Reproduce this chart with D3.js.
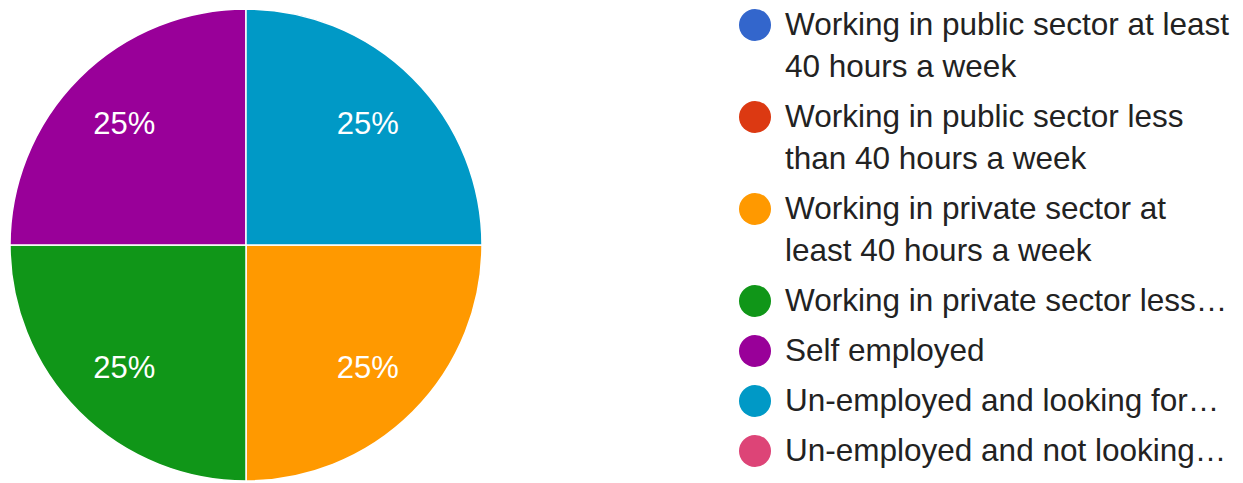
<!DOCTYPE html>
<html>
<head>
<meta charset="utf-8">
<script src="https://cdn.jsdelivr.net/npm/d3@7"></script>
<style>
  body { margin: 0; background: #fff; }
  svg { display: block; }
</style>
</head>
<body>
<div id="chart"></div>
<script>
const categories = [
  'Working in public sector at least 40 hours a week',
  'Working in public sector less than 40 hours a week',
  'Working in private sector at least 40 hours a week',
  'Working in private sector less than 40 hours a week',
  'Self employed',
  'Un-employed and looking for work',
  'Un-employed and not looking for work',
];
// legend text as shown (wrapped / truncated)
const legendLines = [
  ['Working in public sector at least', '40 hours a week'],
  ['Working in public sector less', 'than 40 hours a week'],
  ['Working in private sector at', 'least 40 hours a week'],
  ['Working in private sector less…'],
  ['Self employed'],
  ['Un-employed and looking for…'],
  ['Un-employed and not looking…'],
];
const values = [0, 0, 1, 1, 1, 1, 0];
const colors = ['#3366cc', '#dc3912', '#ff9900', '#109618', '#990099', '#0099c6', '#dd4477'];

const width = 1243;
const height = 483;
const font = '"Liberation Sans", Arial, sans-serif';

const svg = d3.select('#chart')
  .append('svg')
  .attr('width', width)
  .attr('height', height);

const data = categories.map((c, i) => ({ name: c, value: values[i], color: colors[i] }));
const total = d3.sum(values);

// Pie
const cx = 246;
const cy = 245;
const r = 236;

const pie = d3.pie()
  .sort(null)
  .value((d) => d.value)
  .startAngle(Math.PI / 2)
  .endAngle(Math.PI / 2 + 2 * Math.PI);

const arc = d3.arc().innerRadius(0).outerRadius(r);
const labelArc = d3.arc().innerRadius(r * 0.73).outerRadius(r * 0.73);

const g = svg.append('g').attr('transform', `translate(${cx},${cy})`);
const slices = pie(data).filter((d) => d.data.value > 0);

g.selectAll('path')
  .data(slices)
  .enter()
  .append('path')
  .attr('d', arc)
  .attr('fill', (d) => d.data.color)
  .attr('stroke', '#fff')
  .attr('stroke-width', 1.5);

g.selectAll('text')
  .data(slices)
  .enter()
  .append('text')
  .attr('transform', (d) => `translate(${labelArc.centroid(d)})`)
  .attr('text-anchor', 'middle')
  .attr('dy', '0.36em')
  .style('font-family', font)
  .style('font-size', '31px')
  .style('fill', '#fff')
  .text((d) => `${Math.round((d.data.value / total) * 100)}%`);

// Legend
const legend = svg.append('g').attr('transform', 'translate(755,0)');
const lineH = 42;
let y = 25;
data.forEach((d, i) => {
  const row = legend.append('g').attr('transform', `translate(0,${y})`);
  row.append('circle').attr('r', 16).attr('fill', d.color);
  const txt = row.append('text')
    .attr('x', 30)
    .attr('y', 10)
    .style('font-family', font)
    .style('font-size', '31.5px')
    .style('fill', '#222');
  legendLines[i].forEach((ln, j) => {
    txt.append('tspan').attr('x', 30).attr('dy', j === 0 ? 0 : lineH).text(ln);
  });
  y += legendLines[i].length * lineH + 8;
});
</script>
</body>
</html>
